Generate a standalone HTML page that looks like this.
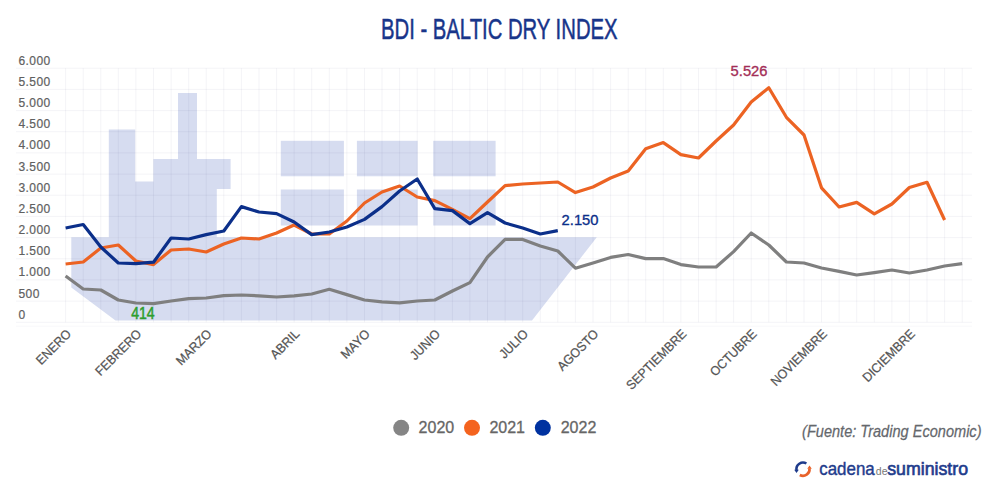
<!DOCTYPE html>
<html lang="es"><head><meta charset="utf-8"><title>BDI - Baltic Dry Index</title>
<style>
html,body{margin:0;padding:0;background:#fff;}
body{width:1000px;height:500px;overflow:hidden;font-family:"Liberation Sans",sans-serif;}
svg{display:block;}
svg text{font-family:"Liberation Sans",sans-serif;}
</style></head><body>
<svg width="1000" height="500" viewBox="0 0 1000 500">
<rect width="1000" height="500" fill="#ffffff"/>
<!-- ship silhouette -->
<g fill="#d6dcf0">
<polygon points="71.3,237.2 596.8,237.2 532,320.6 115.5,320.6 71.3,287.5"/>
<polygon points="108.8,237.5 108.8,129.5 135.2,129.5 135.2,181.5 153.4,181.5 153.4,159 178,159 178,93 197,93 197,159 230.6,159 230.6,189 216.8,189 216.8,237.5"/>
<rect x="280.8" y="140.8" width="63.1" height="35.5"/>
<rect x="356.9" y="140.8" width="60.7" height="35.5"/>
<rect x="433.2" y="140.8" width="62.4" height="35.5"/>
<rect x="280.8" y="189.5" width="63.1" height="36"/>
<rect x="356.9" y="189.5" width="60.7" height="36"/>
<rect x="433.2" y="189.5" width="62.4" height="36"/>
</g>
<!-- grid -->
<g stroke="#1a1a50" stroke-opacity="0.048" stroke-width="1" shape-rendering="auto">
<line x1="16" y1="322.3" x2="972" y2="322.3"/><line x1="16" y1="301.1" x2="972" y2="301.1"/><line x1="16" y1="279.9" x2="972" y2="279.9"/><line x1="16" y1="258.8" x2="972" y2="258.8"/><line x1="16" y1="237.6" x2="972" y2="237.6"/><line x1="16" y1="216.4" x2="972" y2="216.4"/><line x1="16" y1="195.2" x2="972" y2="195.2"/><line x1="16" y1="174.1" x2="972" y2="174.1"/><line x1="16" y1="152.9" x2="972" y2="152.9"/><line x1="16" y1="131.7" x2="972" y2="131.7"/><line x1="16" y1="110.6" x2="972" y2="110.6"/><line x1="16" y1="89.4" x2="972" y2="89.4"/><line x1="16" y1="68.2" x2="972" y2="68.2"/>
<line x1="65.6" y1="68.2" x2="65.6" y2="322.3"/><line x1="83.2" y1="68.2" x2="83.2" y2="322.3"/><line x1="100.8" y1="68.2" x2="100.8" y2="322.3"/><line x1="118.3" y1="68.2" x2="118.3" y2="322.3"/><line x1="135.9" y1="68.2" x2="135.9" y2="322.3"/><line x1="153.5" y1="68.2" x2="153.5" y2="322.3"/><line x1="171.1" y1="68.2" x2="171.1" y2="322.3"/><line x1="188.7" y1="68.2" x2="188.7" y2="322.3"/><line x1="206.2" y1="68.2" x2="206.2" y2="322.3"/><line x1="223.8" y1="68.2" x2="223.8" y2="322.3"/><line x1="241.4" y1="68.2" x2="241.4" y2="322.3"/><line x1="259.0" y1="68.2" x2="259.0" y2="322.3"/><line x1="276.6" y1="68.2" x2="276.6" y2="322.3"/><line x1="294.1" y1="68.2" x2="294.1" y2="322.3"/><line x1="311.7" y1="68.2" x2="311.7" y2="322.3"/><line x1="329.3" y1="68.2" x2="329.3" y2="322.3"/><line x1="346.9" y1="68.2" x2="346.9" y2="322.3"/><line x1="364.5" y1="68.2" x2="364.5" y2="322.3"/><line x1="382.0" y1="68.2" x2="382.0" y2="322.3"/><line x1="399.6" y1="68.2" x2="399.6" y2="322.3"/><line x1="417.2" y1="68.2" x2="417.2" y2="322.3"/><line x1="434.8" y1="68.2" x2="434.8" y2="322.3"/><line x1="452.4" y1="68.2" x2="452.4" y2="322.3"/><line x1="469.9" y1="68.2" x2="469.9" y2="322.3"/><line x1="487.5" y1="68.2" x2="487.5" y2="322.3"/><line x1="505.1" y1="68.2" x2="505.1" y2="322.3"/><line x1="522.7" y1="68.2" x2="522.7" y2="322.3"/><line x1="540.3" y1="68.2" x2="540.3" y2="322.3"/><line x1="557.8" y1="68.2" x2="557.8" y2="322.3"/><line x1="575.4" y1="68.2" x2="575.4" y2="322.3"/><line x1="593.0" y1="68.2" x2="593.0" y2="322.3"/><line x1="610.6" y1="68.2" x2="610.6" y2="322.3"/><line x1="628.2" y1="68.2" x2="628.2" y2="322.3"/><line x1="645.7" y1="68.2" x2="645.7" y2="322.3"/><line x1="663.3" y1="68.2" x2="663.3" y2="322.3"/><line x1="680.9" y1="68.2" x2="680.9" y2="322.3"/><line x1="698.5" y1="68.2" x2="698.5" y2="322.3"/><line x1="716.1" y1="68.2" x2="716.1" y2="322.3"/><line x1="733.6" y1="68.2" x2="733.6" y2="322.3"/><line x1="751.2" y1="68.2" x2="751.2" y2="322.3"/><line x1="768.8" y1="68.2" x2="768.8" y2="322.3"/><line x1="786.4" y1="68.2" x2="786.4" y2="322.3"/><line x1="804.0" y1="68.2" x2="804.0" y2="322.3"/><line x1="821.5" y1="68.2" x2="821.5" y2="322.3"/><line x1="839.1" y1="68.2" x2="839.1" y2="322.3"/><line x1="856.7" y1="68.2" x2="856.7" y2="322.3"/><line x1="874.3" y1="68.2" x2="874.3" y2="322.3"/><line x1="891.9" y1="68.2" x2="891.9" y2="322.3"/><line x1="909.4" y1="68.2" x2="909.4" y2="322.3"/><line x1="927.0" y1="68.2" x2="927.0" y2="322.3"/><line x1="944.6" y1="68.2" x2="944.6" y2="322.3"/><line x1="962.2" y1="68.2" x2="962.2" y2="322.3"/>
<line x1="16" y1="326.2" x2="972" y2="326.2" stroke-opacity="0.03"/>
</g>
<!-- y labels -->
<g font-size="12" fill="#606060" stroke="#606060" stroke-width="0.2" letter-spacing="0.4">
<text x="18.5" y="318.7">0</text><text x="18.5" y="297.5">500</text><text x="18.5" y="276.3">1.000</text><text x="18.5" y="255.2">1.500</text><text x="18.5" y="234.0">2.000</text><text x="18.5" y="212.8">2.500</text><text x="18.5" y="191.7">3.000</text><text x="18.5" y="170.5">3.500</text><text x="18.5" y="149.3">4.000</text><text x="18.5" y="128.1">4.500</text><text x="18.5" y="107.0">5.000</text><text x="18.5" y="85.8">5.500</text><text x="18.5" y="64.6">6.000</text>
</g>
<!-- x labels -->
<g font-size="13" fill="#555555" stroke="#555555" stroke-width="0.25">
<text transform="translate(71.89999999999999,334.8) rotate(-45) scale(0.94,1)" text-anchor="end">ENERO</text><text transform="translate(142.20000000000002,334.8) rotate(-45) scale(0.94,1)" text-anchor="end">FEBRERO</text><text transform="translate(212.5,334.8) rotate(-45) scale(0.94,1)" text-anchor="end">MARZO</text><text transform="translate(300.40000000000003,334.8) rotate(-45) scale(0.94,1)" text-anchor="end">ABRIL</text><text transform="translate(370.8,334.8) rotate(-45) scale(0.94,1)" text-anchor="end">MAYO</text><text transform="translate(441.1,334.8) rotate(-45) scale(0.94,1)" text-anchor="end">JUNIO</text><text transform="translate(529.0,334.8) rotate(-45) scale(0.94,1)" text-anchor="end">JULIO</text><text transform="translate(599.3,334.8) rotate(-45) scale(0.94,1)" text-anchor="end">AGOSTO</text><text transform="translate(687.1999999999999,334.8) rotate(-45) scale(0.94,1)" text-anchor="end">SEPTIEMBRE</text><text transform="translate(757.5,334.8) rotate(-45) scale(0.94,1)" text-anchor="end">OCTUBRE</text><text transform="translate(827.8,334.8) rotate(-45) scale(0.94,1)" text-anchor="end">NOVIEMBRE</text><text transform="translate(915.6999999999999,334.8) rotate(-45) scale(0.94,1)" text-anchor="end">DICIEMBRE</text>
</g>
<!-- series -->
<g fill="none" stroke-width="3.2" stroke-linejoin="round" stroke-linecap="butt">
<polyline stroke="#7f7f7f" points="65.6,276 83.2,289 100.8,290 118.3,300 135.9,303 153.5,303.6 171.1,301 188.7,298.6 206.2,298 223.8,295.6 241.4,295 259.0,295.8 276.6,297 294.1,295.8 311.7,294 329.3,289.3 346.9,294.6 364.5,300 382.0,301.8 399.6,302.8 417.2,301 434.8,300 452.4,291 469.9,282.6 487.5,257 505.1,239.4 522.7,239.4 540.3,246 557.8,251 575.4,268.2 593.0,263 610.6,257.4 628.2,254.5 645.7,258.6 663.3,258.6 680.9,264.6 698.5,267 716.1,267 733.6,251.6 751.2,233 768.8,245 786.4,262 804.0,263 821.5,268 839.1,271.4 856.7,275 874.3,272.6 891.9,270 909.4,273 927.0,270 944.6,266 962.2,263.6"/>
<polyline stroke="#ec6323" points="65.6,264 83.2,262 100.8,248 118.3,245 135.9,261 153.5,264.6 171.1,250 188.7,249 206.2,252 223.8,244 241.4,238 259.0,239 276.6,233 294.1,225 311.7,234 329.3,234 346.9,221 364.5,203 382.0,192 399.6,186 417.2,197 434.8,200.6 452.4,209.4 469.9,218.6 487.5,202 505.1,185.6 522.7,184 540.3,183 557.8,182 575.4,192.6 593.0,187 610.6,178 628.2,171 645.7,148.7 663.3,142.6 680.9,154.6 698.5,158 716.1,141 733.6,125 751.2,102 768.8,87.7 786.4,117.3 804.0,135 821.5,187.8 839.1,207 856.7,202.4 874.3,213.9 891.9,204 909.4,187.5 927.0,182.3 944.6,220"/>
<polyline stroke="#0b2f8a" points="65.6,228 83.2,224.5 100.8,247 118.3,263 135.9,263.6 153.5,262.2 171.1,238 188.7,239 206.2,234.6 223.8,231 241.4,206.6 259.0,212 276.6,213.6 294.1,222 311.7,234.6 329.3,232 346.9,227 364.5,219.4 382.0,206.6 399.6,191 417.2,179 434.8,208.6 452.4,210.6 469.9,223.6 487.5,212.6 505.1,223 522.7,228 540.3,234 557.8,230.6"/>
</g>
<!-- annotations -->
<text transform="translate(131.2,318.8) scale(0.88,1)" font-size="16" fill="#2e9e2e" stroke="#2e9e2e" stroke-width="0.5">414</text>
<text transform="translate(561.6,225.4) scale(0.957,1)" font-size="15.4" fill="#0b2f8a" stroke="#0b2f8a" stroke-width="0.35">2.150</text>
<text transform="translate(730.6,75.9) scale(0.957,1)" font-size="15.4" fill="#a32e57" stroke="#a32e57" stroke-width="0.35">5.526</text>
<!-- title -->
<text transform="translate(499.3,39.1) scale(0.709,1)" text-anchor="middle" font-size="28.6" fill="#18358a" stroke="#18358a" stroke-width="0.5">BDI - BALTIC DRY INDEX</text>
<!-- legend -->
<circle cx="401.2" cy="427.8" r="8" fill="#858585"/>
<text x="418.6" y="433.3" font-size="16" fill="#666666" stroke="#666666" stroke-width="0.3">2020</text>
<circle cx="472" cy="427.8" r="8" fill="#f4631e"/>
<text x="489.4" y="433.3" font-size="16" fill="#666666" stroke="#666666" stroke-width="0.3">2021</text>
<circle cx="542.8" cy="427.8" r="8" fill="#0032a0"/>
<text x="560.7" y="433.3" font-size="16" fill="#666666" stroke="#666666" stroke-width="0.3">2022</text>
<!-- source -->
<text transform="translate(981.5,436.8) scale(0.857,1)" text-anchor="end" font-size="17" font-style="italic" fill="#64676c" stroke="#64676c" stroke-width="0.25">(Fuente: Trading Economic)</text>
<!-- logo -->
<g fill="none" stroke-width="2.6" stroke-linecap="butt">
<path d="M806.4,463.5 A6.6,6.6 0 0 0 796.5,470.2" stroke="#1f3c8c"/>
<path d="M799.8,475.0 A6.6,6.6 0 0 0 809.5,468.4" stroke="#e8622a"/>
</g>
<polygon points="794.2,469.8 798.8,469.8 796.5,473" fill="#1f3c8c"/>
<polygon points="807.2,468.8 811.8,468.8 809.5,465.6" fill="#e8622a"/>
<text transform="translate(819.2,474.9) scale(0.93,1)" font-size="18.2" fill="#1f3c8c" stroke="#1f3c8c" stroke-width="0.4">cadena</text>
<text transform="translate(875.8,474.9)" font-size="10.5" fill="#777777">de</text>
<text transform="translate(887.2,474.9) scale(0.975,1)" font-size="18.2" fill="#1f3c8c" stroke="#1f3c8c" stroke-width="0.65">suministro</text>
</svg>
</body></html>
